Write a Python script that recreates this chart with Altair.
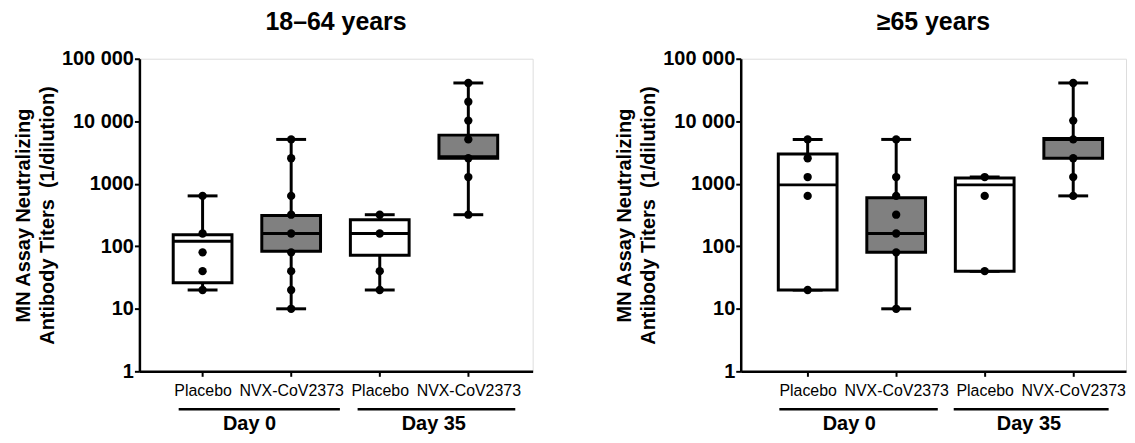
import altair as alt
import pandas as pd

FONT = "Liberation Sans"

# categories
positions = [1, 2, 3, 4]
group_names = ["Placebo", "NVX-CoV2373", "Placebo", "NVX-CoV2373"]
fills = ["white", "#808080", "white", "#808080"]
day_names = ["Day 0", "Day 35"]

# 18-64 years: box statistics
y_min = [20, 10, 20, 320]
y_q1 = [26, 83, 72, 2560]
y_med = [120, 160, 160, 2700]
y_q3 = [153, 310, 265, 6000]
y_max = [640, 5120, 320, 40960]
y_pts_placebo_d0 = [640, 160, 80, 40, 20]
y_pts_nvx_d0 = [5120, 2560, 640, 320, 160, 80, 40, 20, 10]
y_pts_placebo_d35 = [320, 160, 40, 20]
y_pts_nvx_d35 = [40960, 20480, 10240, 5120, 2560, 1280, 320]

# >=65 years: box statistics
o_min = [20, 10, 40, 640]
o_q1 = [20, 80, 40, 2560]
o_med = [960, 160, 960, 5120]
o_q3 = [3000, 600, 1240, 5300]
o_max = [5120, 5120, 1280, 40960]
o_pts_placebo_d0 = [5120, 2560, 1280, 640, 20]
o_pts_nvx_d0 = [5120, 1280, 640, 320, 160, 80, 10]
o_pts_placebo_d35 = [1280, 640, 40]
o_pts_nvx_d35 = [40960, 10240, 5120, 2560, 1280, 640]

# group bracket spans (category units)
y_grp_start = [0.73, 2.75]
y_grp_end = [2.55, 4.53]
y_grp_label = [1.53, 3.61]
o_grp_start = [0.68, 2.65]
o_grp_end = [2.47, 4.40]
o_grp_label = [1.47, 3.50]

y_ticks = [1, 10, 100, 1000, 10000, 100000]

H = 314


def panel(title, width, xdomain, mins, q1s, meds, q3s, maxs, pts,
          gstart, gend, glabel):
    box_df = pd.DataFrame({"pos": positions, "mn": mins, "q1": q1s, "med": meds,
                           "q3": q3s, "mx": maxs, "fill": fills})
    rows = []
    for p, vals in zip(positions, pts):
        for v in vals:
            rows.append({"pos": p, "v": v})
    pts_df = pd.DataFrame(rows)
    grp_df = pd.DataFrame({"s": gstart, "e": gend, "c": glabel, "name": day_names})

    label_expr = " : ".join(
        f"datum.value == {p} ? '{n}'" for p, n in zip(positions, group_names)
    ) + " : ''"

    xscale = alt.Scale(domain=xdomain, nice=False, zero=False)
    yscale = alt.Scale(type="log", domain=[1, 100000], nice=False)
    xaxis = alt.Axis(values=positions, labelExpr=label_expr, title=None, grid=False,
                     labelFont=FONT, labelFontSize=16, labelColor="black",
                     labelPadding=6, tickSize=5, tickWidth=2, tickColor="black",
                     domainColor="black", domainWidth=2.5, labelAngle=0)
    yaxis = alt.Axis(values=y_ticks,
                     labelExpr="datum.value >= 10000 ? replace(format(datum.value, ','), ',', ' ') : format(datum.value, 'd')",
                     title=["MN Assay Neutralizing", "Antibody Titers \u00a0(1/dilution)"],
                     titleFont=FONT, titleFontSize=20, titleFontWeight="bold",
                     titleColor="black", titleLineHeight=24, titlePadding=4,
                     labelFont=FONT, labelFontSize=20, labelFontWeight="bold",
                     labelColor="black", labelPadding=1, tickSize=5, tickWidth=2,
                     tickColor="black", domainColor="black", domainWidth=2.5,
                     grid=False)

    base = alt.Chart(box_df)
    whisk = base.mark_rule(color="black", strokeWidth=3).encode(
        x=alt.X("pos:Q", scale=xscale, axis=xaxis),
        y=alt.Y("mn:Q", scale=yscale, axis=yaxis),
        y2="mx:Q",
    )
    cap_lo = base.mark_tick(color="black", opacity=1, orient="horizontal", size=30,
                            thickness=3).encode(x="pos:Q", y="mn:Q")
    cap_hi = base.mark_tick(color="black", opacity=1, orient="horizontal", size=30,
                            thickness=3).encode(x="pos:Q", y="mx:Q")
    box = base.mark_bar(size=59, stroke="black", strokeWidth=3, opacity=1).encode(
        x="pos:Q", y="q1:Q", y2="q3:Q",
        fill=alt.Fill("fill:N", scale=None))
    med = base.mark_tick(color="black", opacity=1, orient="horizontal", size=59,
                         thickness=3).encode(x="pos:Q", y="med:Q")
    dots = alt.Chart(pts_df).mark_circle(size=70, color="black", opacity=1).encode(
        x="pos:Q", y="v:Q")
    glines = alt.Chart(grp_df).mark_rule(color="black", strokeWidth=2.5).encode(
        x="s:Q", x2="e:Q", y=alt.value(H + 38))
    gtext = alt.Chart(grp_df).mark_text(font=FONT, fontSize=20, fontWeight="bold",
                                        color="black", baseline="middle").encode(
        x="c:Q", y=alt.value(H + 53), text="name:N")

    return alt.layer(whisk, cap_lo, cap_hi, box, med, dots, glines, gtext).properties(
        width=width, height=H,
        title=alt.TitleParams(title, font=FONT, fontSize=25, fontWeight="bold",
                              color="black", anchor="middle", offset=14),
    )


left = panel("18–64 years", 395, [0.343, 4.67], y_min, y_q1, y_med, y_q3, y_max,
             [y_pts_placebo_d0, y_pts_nvx_d0, y_pts_placebo_d35, y_pts_nvx_d35],
             y_grp_start, y_grp_end, y_grp_label)
right = panel("≥65 years", 387, [0.30, 4.54], o_min, o_q1, o_med, o_q3, o_max,
              [o_pts_placebo_d0, o_pts_nvx_d0, o_pts_placebo_d35, o_pts_nvx_d35],
              o_grp_start, o_grp_end, o_grp_label)

chart = alt.hconcat(left, right, spacing=81).configure_view(stroke=None).configure(
    background="white").properties(
    padding={"left": 5, "top": 0, "right": 0, "bottom": 0})

chart.save("out.html", embed_options={"renderer": "svg", "actions": False})
